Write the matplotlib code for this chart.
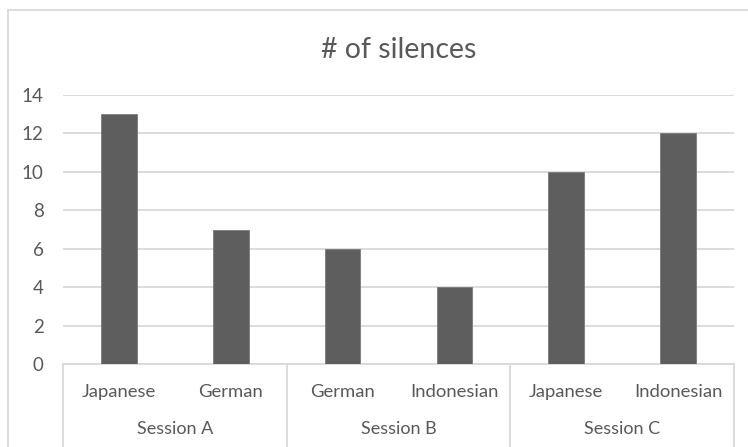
import matplotlib
matplotlib.use('Agg')
import matplotlib.pyplot as plt
from matplotlib.lines import Line2D
from matplotlib.transforms import blended_transform_factory

# chart data
languages = ['Japanese', 'German', 'German', 'Indonesian', 'Japanese', 'Indonesian']
sessions = ['Session A', 'Session B', 'Session C']
silences = [13, 7, 6, 4, 10, 12]

text_col = '#595959'
grid_col = '#d9d9d9'
bar_col = '#5e5e5e'

plt.rcParams['font.family'] = ['Lato', 'DejaVu Sans']

W, H = 748, 447
fig = plt.figure(figsize=(W / 100, H / 100), dpi=100)

# plot area in pixels: x 63..734, y 95 (14) .. 364 (0)
x0, x1, y0, y1 = 63, 734, 95, 364
ax = fig.add_axes([x0 / W, (H - y1) / H, (x1 - x0) / W, (y1 - y0) / H])

pos = list(range(len(languages)))
ax.bar(pos, silences, width=0.32, color=bar_col, edgecolor='#7a7a7a', linewidth=0.6, zorder=3)

ax.set_xlim(-0.5, len(languages) - 0.5)
ax.set_ylim(0, 14)
ax.set_yticks(range(0, 15, 2))
ax.yaxis.grid(True, color=grid_col, linewidth=1.3, zorder=0)
ax.tick_params(axis='y', length=0, pad=14, labelsize=13.5, labelcolor=text_col)
ax.set_xticks([])
for s in ['top', 'right', 'left']:
    ax.spines[s].set_visible(False)
ax.spines['bottom'].set_color(grid_col)
ax.spines['bottom'].set_linewidth(1.3)

# two-level category axis
trans = blended_transform_factory(ax.transData, ax.transAxes)
span = y1 - y0
for i, lab in enumerate(languages):
    ax.text(i, -(392 - y1) / span, lab, transform=trans, ha='center', va='center',
            fontsize=13.3, color=text_col)
for j, s in enumerate(sessions):
    ax.text(2 * j + 0.5, -(429 - y1) / span, s, transform=trans, ha='center', va='center',
            fontsize=13, color=text_col)
for xs in [-0.5, 1.5, 3.5, 5.5]:
    ax.plot([xs, xs], [0, -(H - y1) / span], transform=trans, color=grid_col,
            linewidth=1.3, clip_on=False)

fig.text((x0 + x1) / 2 / W, 1 - 50 / H, '# of silences', ha='center', va='center',
         fontsize=20.5, color=text_col)

# chart border (right and bottom edges are cut off)
fig.add_artist(Line2D([8 / W, 1], [1 - 10 / H, 1 - 10 / H], color=grid_col, linewidth=1.3))
fig.add_artist(Line2D([8 / W, 8 / W], [0, 1 - 10 / H], color=grid_col, linewidth=1.3))

fig.savefig('out.png', dpi=100)
